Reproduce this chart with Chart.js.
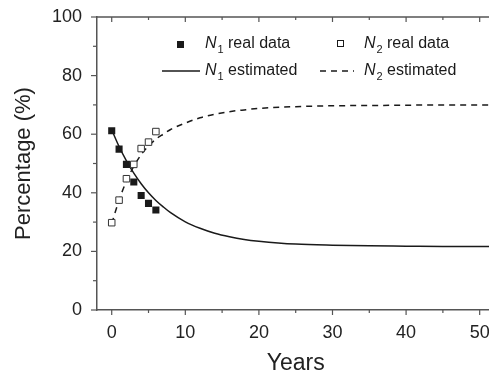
<!DOCTYPE html>
<html>
<head>
<meta charset="utf-8">
<script src="https://cdn.jsdelivr.net/npm/chart.js@4"></script>
<style>
    body { margin: 0; overflow: hidden; background: #fff; }
    #wrap { width: 500px; height: 375px; }
</style>
</head>
<body>
<div id="wrap"><canvas id="chart" width="500" height="375"></canvas></div>
<script>
// measured data (years)
const years = [0, 1, 2, 3, 4, 5, 6];
const n1Real = [61.2, 54.9, 49.7, 43.7, 39.1, 36.4, 34.1];
const n2Real = [29.8, 37.5, 44.8, 49.7, 55.1, 57.3, 60.9];

// estimated curves
const fitYears = [0, 1, 2, 3, 4, 5, 6, 7, 8, 10, 12, 14, 16, 18, 20, 25, 30, 35, 40, 45, 50, 52];
const n1Est = [61.5, 55.8, 50.9, 46.7, 43.1, 40.0, 37.4, 35.2, 33.2, 30.1, 27.9, 26.2, 25.0, 24.1, 23.5, 22.5, 22.1, 21.9, 21.8, 21.7, 21.7, 21.7];
const n2Est = [29.5, 37.5, 44.0, 49.0, 53.0, 56.0, 58.3, 60.0, 61.6, 63.8, 65.6, 66.8, 67.7, 68.3, 68.8, 69.4, 69.7, 69.8, 69.9, 70.0, 70.0, 70.0];

const xTicks = [0, 10, 20, 30, 40, 50];
const yTicks = [0, 20, 40, 60, 80, 100];

const FONT = "'Liberation Sans', Arial, sans-serif";
const AXIS = '#555';
const INK = '#1a1a1a';

const toPoints = (xs, ys) => xs.map((x, i) => ({x: x, y: ys[i]}));

// tick marks + top frame line
const framePlugin = {
    id: 'frame',
    afterDraw(chart) {
        const {ctx, chartArea, scales} = chart;
        ctx.save();
        ctx.strokeStyle = AXIS;
        ctx.lineWidth = 1.5;
        ctx.beginPath();
        ctx.moveTo(chartArea.left, chartArea.top);
        ctx.lineTo(chartArea.right, chartArea.top);
        ctx.stroke();

        ctx.lineWidth = 1.2;
        for (let v = 0; v <= 50; v += 5) {
            const px = scales.x.getPixelForValue(v);
            const len = xTicks.includes(v) ? 5 : 3;
            ctx.beginPath();
            ctx.moveTo(px, chartArea.bottom);
            ctx.lineTo(px, chartArea.bottom + len);
            ctx.moveTo(px, chartArea.top);
            ctx.lineTo(px, chartArea.top + len);
            ctx.stroke();
        }
        for (let v = 0; v <= 100; v += 10) {
            const py = scales.y.getPixelForValue(v);
            const len = yTicks.includes(v) ? 6 : 4;
            ctx.beginPath();
            ctx.moveTo(chartArea.left, py);
            ctx.lineTo(chartArea.left - len, py);
            ctx.stroke();
        }
        ctx.restore();
    }
};

// legend with italic N and subscripts
const legendPlugin = {
    id: 'customLegend',
    afterDraw(chart) {
        const ctx = chart.ctx;
        ctx.save();
        ctx.fillStyle = INK;
        ctx.strokeStyle = INK;
        ctx.textBaseline = 'middle';
        ctx.textAlign = 'left';

        const label = (x, y, sub, rest) => {
            ctx.font = 'italic 16px ' + FONT;
            ctx.fillText('N', x, y);
            const w = ctx.measureText('N').width;
            ctx.font = '11px ' + FONT;
            ctx.fillText(sub, x + w + 1, y + 6);
            ctx.font = '16px ' + FONT;
            ctx.fillText(rest, x + 23, y);
        };

        // row 1: markers
        ctx.fillRect(177, 41, 7, 7);
        label(205, 44, '1', 'real data');
        ctx.lineWidth = 1;
        ctx.fillStyle = '#fff';
        ctx.fillRect(337.5, 40.5, 6, 6);
        ctx.strokeRect(337.5, 40.5, 6, 6);
        ctx.fillStyle = INK;
        label(364, 44, '2', 'real data');

        // row 2: lines
        ctx.lineWidth = 1.5;
        ctx.beginPath();
        ctx.moveTo(162, 71);
        ctx.lineTo(200, 71);
        ctx.stroke();
        label(205, 71, '1', 'estimated');
        ctx.setLineDash([6, 5]);
        ctx.beginPath();
        ctx.moveTo(320, 71);
        ctx.lineTo(354, 71);
        ctx.stroke();
        ctx.setLineDash([]);
        label(364, 71, '2', 'estimated');
        ctx.restore();
    }
};

new Chart(document.getElementById('chart'), {
    type: 'scatter',
    data: {
        datasets: [
            {
                label: 'N1 estimated',
                data: toPoints(fitYears, n1Est),
                showLine: true,
                borderColor: INK,
                borderWidth: 1.5,
                pointRadius: 0,
                cubicInterpolationMode: 'monotone',
                order: 2
            },
            {
                label: 'N2 estimated',
                data: toPoints(fitYears, n2Est),
                showLine: true,
                borderColor: INK,
                borderWidth: 1.5,
                borderDash: [6, 5],
                pointRadius: 0,
                cubicInterpolationMode: 'monotone',
                order: 2
            },
            {
                label: 'N1 real data',
                data: toPoints(years, n1Real),
                pointStyle: 'rect',
                pointRadius: 5,
                backgroundColor: INK,
                borderColor: INK,
                borderWidth: 0,
                order: 1
            },
            {
                label: 'N2 real data',
                data: toPoints(years, n2Real),
                pointStyle: 'rect',
                pointRadius: 4.6,
                backgroundColor: '#fff',
                borderColor: '#333',
                borderWidth: 1,
                order: 1
            }
        ]
    },
    options: {
        responsive: false,
        animation: false,
        layout: {padding: {top: 17, right: 5, left: 0, bottom: 0}},
        plugins: {
            legend: {display: false},
            tooltip: {enabled: false}
        },
        scales: {
            x: {
                type: 'linear',
                min: -2,
                max: 52,
                grid: {display: false, drawTicks: false},
                border: {display: true, color: AXIS, width: 1.5},
                ticks: {
                    stepSize: 10,
                    includeBounds: false,
                    padding: 12,
                    color: '#222',
                    font: {family: FONT, size: 18},
                    callback: (v) => xTicks.includes(v) ? v : ''
                },
                title: {
                    display: true,
                    text: 'Years',
                    color: '#222',
                    font: {family: FONT, size: 23, lineHeight: 1},
                    padding: {top: 0, bottom: 0}
                },
                afterFit: (scale) => {
                    scale.height = 65;
                    scale.paddingLeft = 0;
                    scale.paddingRight = 0;
                }
            },
            y: {
                min: 0,
                max: 100,
                grid: {display: false, drawTicks: false},
                border: {display: true, color: AXIS, width: 1.5},
                ticks: {
                    stepSize: 20,
                    padding: 15,
                    color: '#222',
                    font: {family: FONT, size: 18},
                    callback: (v) => yTicks.includes(v) ? v : ''
                },
                title: {
                    display: true,
                    text: 'Percentage (%)',
                    color: '#222',
                    font: {family: FONT, size: 22, lineHeight: 1},
                    padding: {top: 13, bottom: 0}
                },
                afterFit: (scale) => {
                    scale.width = 97;
                    scale.paddingTop = 0;
                    scale.paddingBottom = 0;
                }
            }
        }
    },
    plugins: [framePlugin, legendPlugin]
});
</script>
</body>
</html>
